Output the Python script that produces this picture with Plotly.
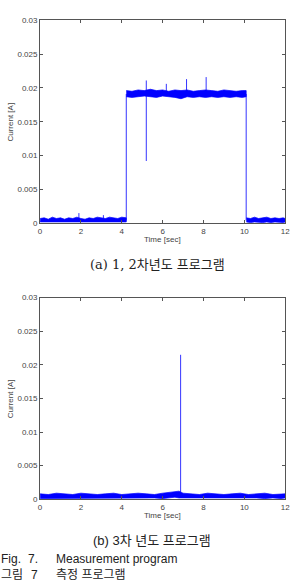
import plotly.graph_objects as go

W, H = 298, 582
BLUE = "#0000ff"

# ---------------- data: (a) 1, 2차년도 ----------------
a1_t = [0.0, 0.2, 0.4, 0.6, 0.8, 1.0, 1.2, 1.4, 1.6, 1.8, 2.0, 2.2, 2.4, 2.6, 2.8, 3.0, 3.2, 3.4, 3.6, 3.8, 4.0, 4.22]
a1_hi = [0.0007, 0.0008, 0.0006, 0.0009, 0.0007, 0.0008, 0.0006, 0.0008, 0.0007, 0.0009, 0.0007,
         0.0006, 0.0008, 0.0007, 0.0009, 0.0008, 0.0007, 0.0009, 0.0008, 0.0007, 0.0009, 0.0008]
a1_lo = [0.0002, 0.0001, 0.0002, 0.0001, 0.0002, 0.0002, 0.0001, 0.0002, 0.0001, 0.0002, 0.0002,
         0.0001, 0.0002, 0.0002, 0.0001, 0.0002, 0.0001, 0.0002, 0.0002, 0.0001, 0.0002, 0.0002]

a2_t = [4.22, 4.5, 4.8, 5.1, 5.4, 5.7, 6.0, 6.3, 6.6, 6.9, 7.2, 7.5, 7.8, 8.1, 8.4, 8.7, 9.0, 9.3, 9.6, 9.9, 10.09]
a2_hi = [0.0196, 0.0195, 0.0197, 0.0196, 0.0198, 0.0196, 0.0197, 0.0195, 0.0197, 0.0196, 0.0197,
         0.0195, 0.0196, 0.0197, 0.0196, 0.0195, 0.0197, 0.0196, 0.0195, 0.0196, 0.0196]
a2_lo = [0.0187, 0.0186, 0.0187, 0.0188, 0.0187, 0.0186, 0.0188, 0.0187, 0.0186, 0.0184, 0.0187,
         0.0186, 0.0187, 0.0186, 0.0187, 0.0186, 0.0187, 0.0186, 0.0187, 0.0186, 0.0187]

a3_t = [10.1, 10.3, 10.5, 10.7, 10.9, 11.1, 11.3, 11.5, 11.7, 11.9, 12.0]
a3_hi = [0.0008, 0.0007, 0.0009, 0.0007, 0.0008, 0.0009, 0.0007, 0.0008, 0.0007, 0.0008, 0.0007]
a3_lo = [0.0002, 0.0001, 0.0002, 0.0002, 0.0001, 0.0002, 0.0001, 0.0002, 0.0002, 0.0001, 0.0002]

# step edges (on / off)
a_edge_t = [4.22, 10.09]
a_edge_lo = [0.0004, 0.0004]
a_edge_hi = [0.0191, 0.0191]

# spikes
a_spike_t = [1.9, 3.1, 5.2, 6.18, 7.17, 8.13]
a_spike_lo = [0.0003, 0.0003, 0.0092, 0.0188, 0.0188, 0.0188]
a_spike_hi = [0.0015, 0.0012, 0.0211, 0.0206, 0.0213, 0.0216]

# ---------------- data: (b) 3차 년도 ----------------
b_t = [0.0, 0.4, 0.8, 1.2, 1.6, 2.0, 2.4, 2.8, 3.2, 3.6, 4.0, 4.4, 4.8, 5.2, 5.6, 6.0,
       6.4, 6.6, 6.8, 7.0, 7.4, 7.8, 8.2, 8.6, 9.0, 9.4, 9.8, 10.2, 10.6, 11.0, 11.4, 11.8, 12.0]
b_hi = [0.0008, 0.0007, 0.0009, 0.0008, 0.0007, 0.0009, 0.0008, 0.0007, 0.0008, 0.0009, 0.0007,
        0.0008, 0.0009, 0.0008, 0.0007, 0.0009, 0.0011, 0.0012, 0.0012, 0.0009, 0.0008, 0.0007,
        0.0009, 0.0008, 0.0007, 0.0008, 0.0009, 0.0007, 0.0008, 0.0009, 0.0007, 0.0008, 0.0008]
b_lo = [0.0001, 0.0002, 0.0001, 0.0002, 0.0002, 0.0001, 0.0002, 0.0001, 0.0002, 0.0002, 0.0001,
        0.0002, 0.0001, 0.0002, 0.0002, 0.0001, 0.0002, 0.0003, 0.0002, 0.0001, 0.0002, 0.0001,
        0.0002, 0.0002, 0.0001, 0.0002, 0.0001, 0.0002, 0.0002, 0.0001, 0.0002, 0.0001, 0.0002]

b_spike_t = [6.88]
b_spike_lo = [0.0005]
b_spike_hi = [0.0215]

x_ticks = [0, 2, 4, 6, 8, 10, 12]
y_ticks = [0, 0.005, 0.01, 0.015, 0.02, 0.025, 0.03]
y_tick_text = ["0", "0.005", "0.01", "0.015", "0.02", "0.025", "0.03"]

captions = ["(a) 1, 2차년도 프로그램", "(b) 3차 년도 프로그램"]
fig_line1 = ["Fig.", "7.", "Measurement program"]
fig_line2 = ["그림", "7", "측정 프로그램"]


def band(t, hi, lo, xa, ya):
    return go.Scatter(x=t + t[::-1], y=hi + lo[::-1], fill="toself", fillcolor=BLUE,
                      line=dict(color=BLUE, width=0.7), mode="lines",
                      xaxis=xa, yaxis=ya, hoverinfo="skip", showlegend=False)


def segs(t, lo, hi, xa, ya, width=1.0):
    xs, ys = [], []
    for ti, l, h in zip(t, lo, hi):
        xs += [ti, ti, None]
        ys += [l, h, None]
    return go.Scatter(x=xs, y=ys, mode="lines", line=dict(color=BLUE, width=width),
                      xaxis=xa, yaxis=ya, hoverinfo="skip", showlegend=False)


fig = go.Figure()
fig.add_trace(band(a1_t, a1_hi, a1_lo, "x", "y"))
fig.add_trace(band(a2_t, a2_hi, a2_lo, "x", "y"))
fig.add_trace(band(a3_t, a3_hi, a3_lo, "x", "y"))
fig.add_trace(segs(a_edge_t, a_edge_lo, a_edge_hi, "x", "y", 0.8))
fig.add_trace(segs(a_spike_t, a_spike_lo, a_spike_hi, "x", "y", 0.8))

fig.add_trace(band(b_t, b_hi, b_lo, "x2", "y2"))
fig.add_trace(segs(b_spike_t, b_spike_lo, b_spike_hi, "x2", "y2", 0.8))


def px_x(p):
    return p / W


def px_y(p):
    return 1 - p / H


X0, X1 = 39, 290
A_TOP, A_BOT = 16.5, 222.7
B_TOP, B_BOT = 298.3, 503.0

tickfont = dict(family="Liberation Sans, Arial, sans-serif", size=8, color="#444")
axcommon = dict(showline=True, linecolor="#555", linewidth=1, mirror="allticks",
                ticks="inside", ticklen=3, tickcolor="#555", showgrid=False,
                zeroline=False, tickfont=tickfont)

fig.update_layout(
    width=W, height=H, margin=dict(l=0, r=0, t=0, b=0),
    paper_bgcolor="white", plot_bgcolor="white", showlegend=False,
    xaxis=dict(domain=[px_x(X0), px_x(X1)], range=[0, 12], tickvals=x_ticks,
               anchor="y", **axcommon),
    yaxis=dict(domain=[px_y(A_BOT), px_y(A_TOP)], range=[0, 0.03], tickvals=y_ticks,
               ticktext=y_tick_text, anchor="x", **axcommon),
    xaxis2=dict(domain=[px_x(X0), px_x(X1)], range=[0, 12], tickvals=x_ticks,
                anchor="y2", **axcommon),
    yaxis2=dict(domain=[px_y(B_BOT), px_y(B_TOP)], range=[0, 0.03], tickvals=y_ticks,
                ticktext=y_tick_text, anchor="x2", **axcommon),
)

labfont = dict(family="Liberation Sans, Arial, sans-serif", size=8, color="#444")
ann = []
for top, bot in [(A_TOP, A_BOT), (B_TOP, B_BOT)]:
    ann.append(dict(text="Current [A]", x=px_x(9), y=px_y((top + bot) / 2), xref="paper", yref="paper",
                    textangle=-90, showarrow=False, font=labfont, xanchor="center", yanchor="middle"))
    ann.append(dict(text="Time [sec]", x=px_x(164.5), y=px_y(bot + 17), xref="paper", yref="paper",
                    showarrow=False, font=labfont, xanchor="center", yanchor="middle"))

capfont = dict(family="'DejaVu Serif', 'Noto Sans CJK KR', serif", size=13, color="#222")
ann.append(dict(text=captions[0], x=px_x(159), y=px_y(265), xref="paper", yref="paper",
                showarrow=False, font=capfont, xanchor="center", yanchor="middle"))
ann.append(dict(text=captions[1], x=px_x(154), y=px_y(545), xref="paper", yref="paper",
                showarrow=False, font=dict(family="'Liberation Sans', 'Noto Sans CJK KR', sans-serif", size=13, color="#222"),
                xanchor="center", yanchor="middle"))

figfont = dict(family="'Liberation Sans', 'Noto Sans CJK KR', sans-serif", size=12, color="#222")
for txt, xp in zip(fig_line1, [-3, 25, 53]):
    ann.append(dict(text=txt, x=px_x(xp), y=px_y(564), xref="paper", yref="paper",
                    showarrow=False, font=figfont, xanchor="left", yanchor="middle"))
for txt, xp in zip(fig_line2, [-3, 28, 53]):
    ann.append(dict(text=txt, x=px_x(xp), y=px_y(580), xref="paper", yref="paper",
                    showarrow=False, font=figfont, xanchor="left", yanchor="middle"))

fig.update_layout(annotations=ann)
fig.write_html("out.html")
